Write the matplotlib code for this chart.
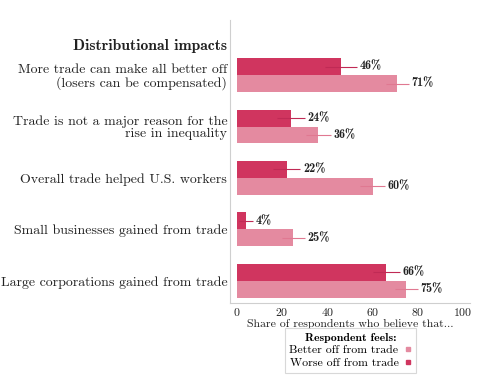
import matplotlib
matplotlib.use("Agg")
import numpy as np
from matplotlib import pyplot as plt
from matplotlib.lines import Line2D

# data
categories = [
    "More trade can make all better off\n(losers can be compensated)",
    "Trade is not a major reason for the\nrise in inequality",
    "Overall trade helped U.S. workers",
    "Small businesses gained from trade",
    "Large corporations gained from trade",
]
worse_off = [46, 24, 22, 4, 66]
better_off = [71, 36, 60, 25, 75]
worse_err = [7, 6, 6, 3, 6]
better_err = [5, 5.5, 5.5, 5, 5]
x_ticks = [0, 20, 40, 60, 80, 100]

DARK = "#d0355f"
LIGHT = "#e48aa0"
GRID = "#cfcfcf"
TXT = "#222222"

plt.rcParams['font.family'] = ['cmr10', 'DejaVu Serif']
plt.rcParams['axes.formatter.use_mathtext'] = True

fig = plt.figure(figsize=(4.78, 3.92), dpi=100)
ax = fig.add_axes([0.481, 0.227, 0.502, 0.722])

y = np.arange(len(categories))
h = 0.33

ax.barh(y - h / 2, worse_off, height=h, color=DARK, zorder=2)
ax.barh(y + h / 2, better_off, height=h, color=LIGHT, zorder=2)
ax.errorbar(worse_off, y - h / 2, xerr=worse_err, fmt="none",
            ecolor="#c02a55", elinewidth=0.8, capsize=0, zorder=3)
ax.errorbar(better_off, y + h / 2, xerr=better_err, fmt="none",
            ecolor="#e07891", elinewidth=0.8, capsize=0, zorder=3)

for vals, errs, off in [(worse_off, worse_err, -h / 2), (better_off, better_err, h / 2)]:
    for i, (v, e) in enumerate(zip(vals, errs)):
        ax.text(v + e + 1.3, i + off, f"{v}%", va="center", ha="left",
                family=['cmb10', 'DejaVu Serif'], fontsize=8.7, color=TXT)

ax.set_yticks(y)
ax.set_yticklabels(categories, fontsize=10, color=TXT, linespacing=1.0)
ax.tick_params(axis="y", length=0, pad=2)
ax.text(-0.012, -0.56, "Distributional impacts", transform=ax.get_yaxis_transform(),
        ha="right", va="center", family=['cmb10', 'DejaVu Serif'],
        fontsize=11.3, color=TXT)

ax.set_xlim(-3, 103)
ax.set_ylim(4.43, -1.07)
ax.set_xticks(x_ticks)
ax.tick_params(axis="x", length=0, pad=2, labelsize=8.5, colors=TXT)
ax.set_xlabel("Share of respondents who believe that...", fontsize=8.5,
              color=TXT, labelpad=0.5)

for s in ["top", "right"]:
    ax.spines[s].set_visible(False)
for s in ["left", "bottom"]:
    ax.spines[s].set_color(GRID)
    ax.spines[s].set_linewidth(0.8)

handles = [
    Line2D([], [], marker="s", linestyle="none", markersize=3,
           color=LIGHT, label="Better off from trade"),
    Line2D([], [], marker="s", linestyle="none", markersize=3,
           color=DARK, label="Worse off from trade"),
]
leg = fig.legend(handles=handles, loc="center", bbox_to_anchor=(0.733, 0.106),
                 markerfirst=False, fontsize=8.5, frameon=True, fancybox=False,
                 edgecolor=GRID, borderpad=0.4, handlelength=0.6,
                 handletextpad=0.5, labelspacing=0.2,
                 title="Respondent feels:",
                 title_fontproperties={"family": "cmb10", "size": 8.5})
leg.get_frame().set_linewidth(0.8)

fig.savefig("out.png", dpi=100)
